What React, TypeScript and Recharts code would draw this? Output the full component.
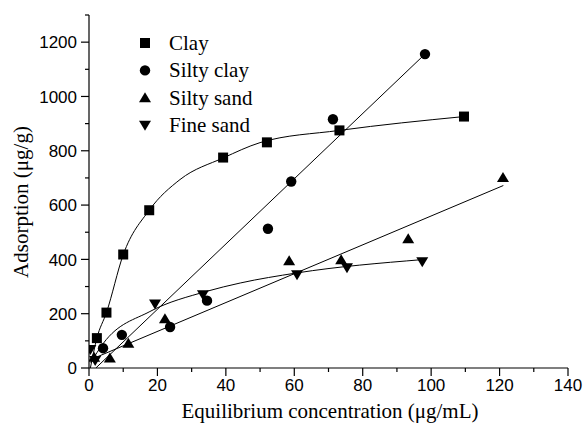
import React from 'react';
import { ScatterChart, Scatter, XAxis, YAxis } from 'recharts';

// measured points (x: µg/mL, y: µg/g)
const clayPoints = [
  { x: 2.3, y: 110 }, { x: 5.1, y: 204 }, { x: 10.0, y: 418 }, { x: 17.6, y: 581 },
  { x: 39.2, y: 775 }, { x: 52.0, y: 831 }, { x: 73.2, y: 875 }, { x: 109.6, y: 926 },
];
const siltyClayPoints = [
  { x: 4.1, y: 73 }, { x: 9.6, y: 122 }, { x: 23.7, y: 151 }, { x: 34.5, y: 248 },
  { x: 52.3, y: 513 }, { x: 59.1, y: 687 }, { x: 71.3, y: 916 }, { x: 98.2, y: 1156 },
];
const siltySandPoints = [
  { x: 1.5, y: 40 }, { x: 6.1, y: 37 }, { x: 11.5, y: 91 }, { x: 22.2, y: 181 },
  { x: 58.5, y: 395 }, { x: 73.7, y: 399 }, { x: 93.3, y: 476 }, { x: 121.0, y: 702 },
];
const fineSandPoints = [
  { x: 0.4, y: 68 }, { x: 1.8, y: 28 }, { x: 19.3, y: 236 }, { x: 33.3, y: 270 },
  { x: 60.8, y: 343 }, { x: 75.4, y: 369 }, { x: 97.4, y: 391 },
];

// fitted curves
const clayCurve = [
  { x: 0.4, y: 0 }, { x: 2.3, y: 110 }, { x: 5.1, y: 204 }, { x: 10.0, y: 417 },
  { x: 17.6, y: 581 }, { x: 26.6, y: 694 }, { x: 39.3, y: 774 }, { x: 50.0, y: 830 },
  { x: 73.2, y: 875 }, { x: 109.6, y: 926 },
];
const siltyClayCurve = [{ x: 2.0, y: 0 }, { x: 98.2, y: 1156 }];
const siltySandCurve = [{ x: 0.3, y: 30 }, { x: 121.1, y: 672 }];
const fineSandCurve = [
  { x: 0.5, y: 20 }, { x: 4.2, y: 91 }, { x: 17.8, y: 208 }, { x: 34.3, y: 282 },
  { x: 44.2, y: 313 }, { x: 60.7, y: 350 }, { x: 97.3, y: 399 },
];

const xTicks = [0, 10, 20, 30, 40, 50, 60, 70, 80, 90, 100, 110, 120, 130, 140];
const yTicks = [0, 100, 200, 300, 400, 500, 600, 700, 800, 900, 1000, 1100, 1200, 1300];

const legendItems = ['Clay', 'Silty clay', 'Silty sand', 'Fine sand'];

const SANS = '"Liberation Sans", Arial, sans-serif';
const SERIF = '"Liberation Serif", "Times New Roman", serif';

function Square({ cx, cy }: any) {
  return <rect x={cx - 5} y={cy - 5} width={10} height={10} fill="#000" />;
}
function Dot({ cx, cy }: any) {
  return <circle cx={cx} cy={cy} r={5.2} fill="#000" />;
}
function Up({ cx, cy }: any) {
  return <path d={`M${cx},${cy - 5.5} L${cx + 6},${cy + 4.5} L${cx - 6},${cy + 4.5} Z`} fill="#000" />;
}
function Down({ cx, cy }: any) {
  return <path d={`M${cx - 6},${cy - 4.5} L${cx + 6},${cy - 4.5} L${cx},${cy + 5.5} Z`} fill="#000" />;
}
const NoShape = () => <g />;

function YTick({ x, y, payload }: any) {
  const major = payload.value % 200 === 0;
  return (
    <g>
      <line x1={x - (major ? 8 : 4)} x2={x} y1={y} y2={y} stroke="#000" strokeWidth={1.2} />
      {major && (
        <text x={x - 12} y={y} dy="0.36em" textAnchor="end" fontSize={17} fontFamily={SANS} fill="#000">
          {payload.value}
        </text>
      )}
    </g>
  );
}

function XTick({ x, y, payload }: any) {
  const major = payload.value % 20 === 0;
  return (
    <g>
      <line x1={x} x2={x} y1={y} y2={y + (major ? 8 : 4)} stroke="#000" strokeWidth={1.2} />
      {major && (
        <text x={x} y={y + 23} textAnchor="middle" fontSize={17} fontFamily={SANS} fill="#000">
          {payload.value}
        </text>
      )}
    </g>
  );
}

const markers = [Square, Dot, Up, Down];

export default function App() {
  return (
    <div style={{ position: 'absolute', left: 0, top: 0, width: 584, height: 430, background: '#fff' }}>
      <ScatterChart width={584} height={430} margin={{ top: 15, right: 16, left: 0, bottom: 0 }}>
        <XAxis
          type="number"
          dataKey="x"
          domain={[0, 140]}
          ticks={xTicks}
          interval={0}
          height={62}
          tickSize={0}
          tickMargin={0}
          tick={<XTick />}
          axisLine={{ stroke: '#000', strokeWidth: 1.2 }}
          allowDataOverflow
        />
        <YAxis
          type="number"
          dataKey="y"
          domain={[0, 1300]}
          ticks={yTicks}
          interval={0}
          width={89}
          tickSize={0}
          tickMargin={0}
          tick={<YTick />}
          axisLine={{ stroke: '#000', strokeWidth: 1.2 }}
          allowDataOverflow
        />
        <Scatter data={clayCurve} line={{ stroke: '#000', strokeWidth: 1 }} lineJointType="monotoneX" shape={NoShape} isAnimationActive={false} />
        <Scatter data={siltyClayCurve} line={{ stroke: '#000', strokeWidth: 1 }} shape={NoShape} isAnimationActive={false} />
        <Scatter data={siltySandCurve} line={{ stroke: '#000', strokeWidth: 1 }} shape={NoShape} isAnimationActive={false} />
        <Scatter data={fineSandCurve} line={{ stroke: '#000', strokeWidth: 1 }} lineJointType="monotoneX" shape={NoShape} isAnimationActive={false} />
        <Scatter name="Clay" data={clayPoints} shape={Square} isAnimationActive={false} />
        <Scatter name="Silty clay" data={siltyClayPoints} shape={Dot} isAnimationActive={false} />
        <Scatter name="Silty sand" data={siltySandPoints} shape={Up} isAnimationActive={false} />
        <Scatter name="Fine sand" data={fineSandPoints} shape={Down} isAnimationActive={false} />
      </ScatterChart>
      <svg width={584} height={430} style={{ position: 'absolute', left: 0, top: 0, pointerEvents: 'none' }}>
        {legendItems.map((name, i) => {
          const M = markers[i];
          const cy = 43 + i * 27.4;
          return (
            <g key={name}>
              <M cx={145} cy={cy} />
              <text x={169} y={cy} dy="0.33em" fontSize={21} fontFamily={SERIF} fill="#000">{name}</text>
            </g>
          );
        })}
        <text x={330} y={418} textAnchor="middle" fontSize={21} fontFamily={SERIF} fill="#000">
          Equilibrium concentration (μg/mL)
        </text>
        <text
          x={0}
          y={0}
          transform="translate(28,202) rotate(-90)"
          textAnchor="middle"
          fontSize={21}
          fontFamily={SERIF}
          fill="#000"
        >
          Adsorption (μg/g)
        </text>
      </svg>
    </div>
  );
}
